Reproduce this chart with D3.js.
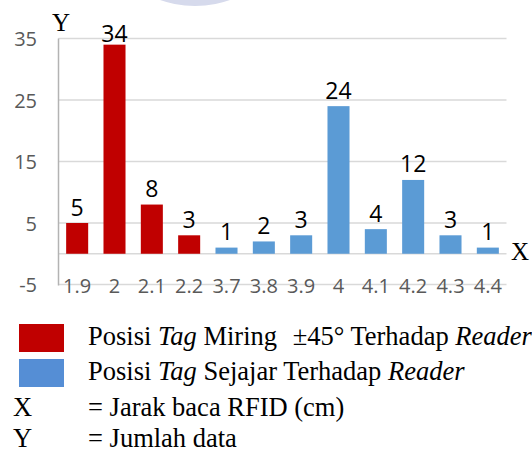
<!DOCTYPE html>
<html><head><meta charset="utf-8">
<script src="https://cdn.jsdelivr.net/npm/d3@7"></script>
<style>html,body{margin:0;padding:0;background:#fff;overflow:hidden}</style>
</head><body>
<script>
const categories = ["1.9","2","2.1","2.2","3.7","3.8","3.9","4","4.1","4.2","4.3","4.4"];
const miringValues = [5,34,8,3,null,null,null,null,null,null,null,null];
const sejajarValues = [null,null,null,null,1,2,3,24,4,12,3,1];
const yTicks = [-5,5,15,25,35];
const seriesNames = ["Miring","Sejajar"];

const W = 532, H = 452;
const svg = d3.select("body").append("svg").attr("width", W).attr("height", H)
  .style("font-family", "'Open Sans', sans-serif");
svg.append("rect").attr("width", W).attr("height", H).attr("fill", "#fff");

// faint watermark
svg.append("circle").attr("cx", 195).attr("cy", -99).attr("r", 105).attr("fill", "#d6daec");

const x = d3.scaleBand().domain(categories).range([58.5, 506.5]).paddingInner(0.41).paddingOuter(0.205);
const y = d3.scaleLinear().domain([-5, 35]).range([284.5, 38.5]);

// gridlines
svg.append("g").selectAll("line").data(yTicks).join("line")
  .attr("x1", 58.5).attr("x2", 506.5)
  .attr("y1", d => y(d)).attr("y2", d => y(d))
  .attr("stroke", "#d9d9d9").attr("stroke-width", 1.5);
// zero axis line
svg.append("line").attr("x1", 58.5).attr("x2", 506.5).attr("y1", y(0)).attr("y2", y(0))
  .attr("stroke", "#d9d9d9").attr("stroke-width", 1.5);
// vertical axis
svg.append("line").attr("x1", 58.5).attr("x2", 58.5).attr("y1", y(35)).attr("y2", y(-5) + 1)
  .attr("stroke", "#b3b3b3").attr("stroke-width", 1.5);

// y tick labels
const yAxis = d3.axisLeft(y).tickValues(yTicks).tickSize(0).tickPadding(0).tickFormat(d => String(d));
const gy = svg.append("g").attr("transform", "translate(37,0)").call(yAxis);
gy.select(".domain").remove();
gy.selectAll("text").attr("fill", "#595959").style("font-size", "20px")
  .style("font-family", "'Open Sans', sans-serif").attr("dy", "0.35em").attr("x", 0);

// x tick labels
const xAxis = d3.axisBottom(x).tickSize(0).tickPadding(0);
const gx = svg.append("g").call(xAxis);
gx.select(".domain").remove();
gx.selectAll("text").attr("fill", "#595959").style("font-size", "20px")
  .style("font-family", "'Open Sans', sans-serif").attr("y", 292.5).attr("dy", 0);

const series = [
  {name: seriesNames[0], values: miringValues, color: "#c00000"},
  {name: seriesNames[1], values: sejajarValues, color: "#5b9bd5"}
];
series.forEach(s => {
  const data = categories.map((c, i) => ({c, v: s.values[i]})).filter(d => d.v != null);
  svg.append("g").selectAll("rect").data(data).join("rect")
    .attr("x", d => x(d.c)).attr("width", x.bandwidth())
    .attr("y", d => y(d.v)).attr("height", d => y(0) - y(d.v))
    .attr("fill", s.color);
  svg.append("g").selectAll("text").data(data).join("text")
    .attr("x", d => x(d.c) + x.bandwidth() / 2)
    .attr("y", d => Math.max(y(d.v) - 7.5, 41.5))
    .attr("text-anchor", "middle").attr("fill", "#000")
    .style("font-size", "23px").text(d => d.v);
});

// axis titles
svg.append("text").attr("x", 52).attr("y", 31).style("font-family", "'Liberation Serif', serif")
  .style("font-size", "25px").text("Y");
svg.append("text").attr("x", 511).attr("y", 260).style("font-family", "'Liberation Serif', serif")
  .style("font-size", "25px").text("X");

// legend
const leg = svg.append("g").style("font-family", "'Liberation Serif', serif").style("font-size", "26.5px").attr("fill", "#000");
leg.append("rect").attr("x", 19).attr("y", 324).attr("width", 45).attr("height", 28).attr("fill", "#c00000");
leg.append("rect").attr("x", 19).attr("y", 359).attr("width", 45).attr("height", 28).attr("fill", "#558ed5");
const t1 = leg.append("text").attr("x", 88).attr("y", 345);
t1.append("tspan").text("Posisi ");
t1.append("tspan").style("font-style", "italic").text("Tag");
t1.append("tspan").text(" Miring ");
t1.append("tspan").attr("dx", 9).text("±45° Terhadap ");
t1.append("tspan").style("font-style", "italic").text("Reader");
const t2 = leg.append("text").attr("x", 88).attr("y", 380);
t2.append("tspan").text("Posisi ");
t2.append("tspan").style("font-style", "italic").text("Tag");
t2.append("tspan").text(" Sejajar Terhadap ");
t2.append("tspan").style("font-style", "italic").text("Reader");
leg.append("text").attr("x", 13).attr("y", 416).text("X");
leg.append("text").attr("x", 88).attr("y", 416).text("= Jarak baca RFID (cm)");
leg.append("text").attr("x", 13).attr("y", 447).text("Y");
leg.append("text").attr("x", 88).attr("y", 447).text("= Jumlah data");
</script>
</body></html>
